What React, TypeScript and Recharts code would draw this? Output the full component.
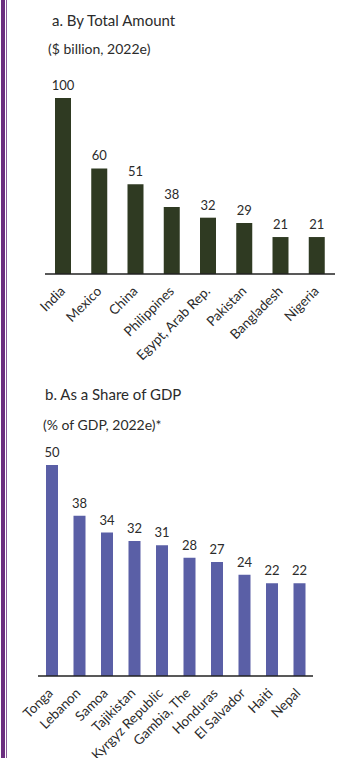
import React from "react"
import { BarChart, Bar, XAxis, YAxis, LabelList } from "recharts"

const totalCountries = ["India", "Mexico", "China", "Philippines", "Egypt, Arab Rep.", "Pakistan", "Bangladesh", "Nigeria"]
const totalValues = [100, 60, 51, 38, 32, 29, 21, 21]

const shareCountries = ["Tonga", "Lebanon", "Samoa", "Tajikistan", "Kyrgyz Republic", "Gambia, The", "Honduras", "El Salvador", "Haiti", "Nepal"]
const shareValues = [50, 38, 34, 32, 31, 28, 27, 24, 22, 22]

const FONT = "Lato, 'Open Sans', sans-serif"
const TEXT = "#2b2b2b"

const totalData = totalCountries.map((name, i) => ({ name, value: totalValues[i] }))
const shareData = shareCountries.map((name, i) => ({ name, value: shareValues[i] }))

function makeTick(dx: number, dy: number) {
  return function Tick(props: any) {
    const { x, y, payload } = props
    return (
      <g transform={`translate(${x + dx},${y + dy})`}>
        <text
          textAnchor="end"
          transform="rotate(-45)"
          fontSize={13.5}
          fontFamily={FONT}
          fill={TEXT}
        >
          {payload.value}
        </text>
      </g>
    )
  }
}

function Title({ top, left, size, children }: { top: number; left: number; size: number; children: React.ReactNode }) {
  return (
    <div
      style={{
        position: "absolute",
        top,
        left,
        fontSize: size,
        fontFamily: FONT,
        color: TEXT,
        lineHeight: 1,
        whiteSpace: "nowrap",
      }}
    >
      {children}
    </div>
  )
}

export default function App() {
  return (
    <div
      style={{
        position: "absolute",
        left: 0,
        top: 0,
        width: 342,
        height: 758,
        background: "#fff",
        overflow: "hidden",
      }}
    >
      {/* purple side rule */}
      <div style={{ position: "absolute", left: 1, top: 0, width: 4, height: 758, background: "#6b2d7f" }} />
      <div style={{ position: "absolute", left: 6, top: 0, width: 1, height: 758, background: "#8a5a9a" }} />

      <Title top={13} left={52} size={15}>a. By Total Amount</Title>
      <Title top={42} left={48} size={14}>($ billion, 2022e)</Title>

      <div style={{ position: "absolute", left: 0, top: 60 }}>
        <BarChart
          width={342}
          height={314}
          data={totalData}
          margin={{ top: 38, right: 7, left: 45, bottom: 0 }}
          barSize={16}
        >
          <XAxis
            dataKey="name"
            interval={0}
            height={100}
            tickLine={false}
            axisLine={{ stroke: "#222", strokeWidth: 1.5 }}
            tick={makeTick(3, 10)}
          />
          <YAxis hide domain={[0, 100]} />
          <Bar dataKey="value" fill="#2f3a22" isAnimationActive={false}>
            <LabelList
              dataKey="value"
              position="top"
              offset={8}
              fontSize={13}
              fontFamily={FONT}
              fill={TEXT}
            />
          </Bar>
        </BarChart>
      </div>

      <Title top={387} left={45} size={15}>b. As a Share of GDP</Title>
      <Title top={418} left={43} size={14}>(% of GDP, 2022e)*</Title>

      <div style={{ position: "absolute", left: 0, top: 430 }}>
        <BarChart
          width={342}
          height={328}
          data={shareData}
          margin={{ top: 35, right: 29, left: 38, bottom: 0 }}
          barSize={12}
        >
          <XAxis
            dataKey="name"
            interval={0}
            height={82}
            tickLine={false}
            axisLine={{ stroke: "#222", strokeWidth: 1.5 }}
            tick={makeTick(2, 10)}
          />
          <YAxis hide domain={[0, 50]} />
          <Bar dataKey="value" fill="#5a5fa6" isAnimationActive={false}>
            <LabelList
              dataKey="value"
              position="top"
              offset={8}
              fontSize={13}
              fontFamily={FONT}
              fill={TEXT}
            />
          </Bar>
        </BarChart>
      </div>
    </div>
  )
}
